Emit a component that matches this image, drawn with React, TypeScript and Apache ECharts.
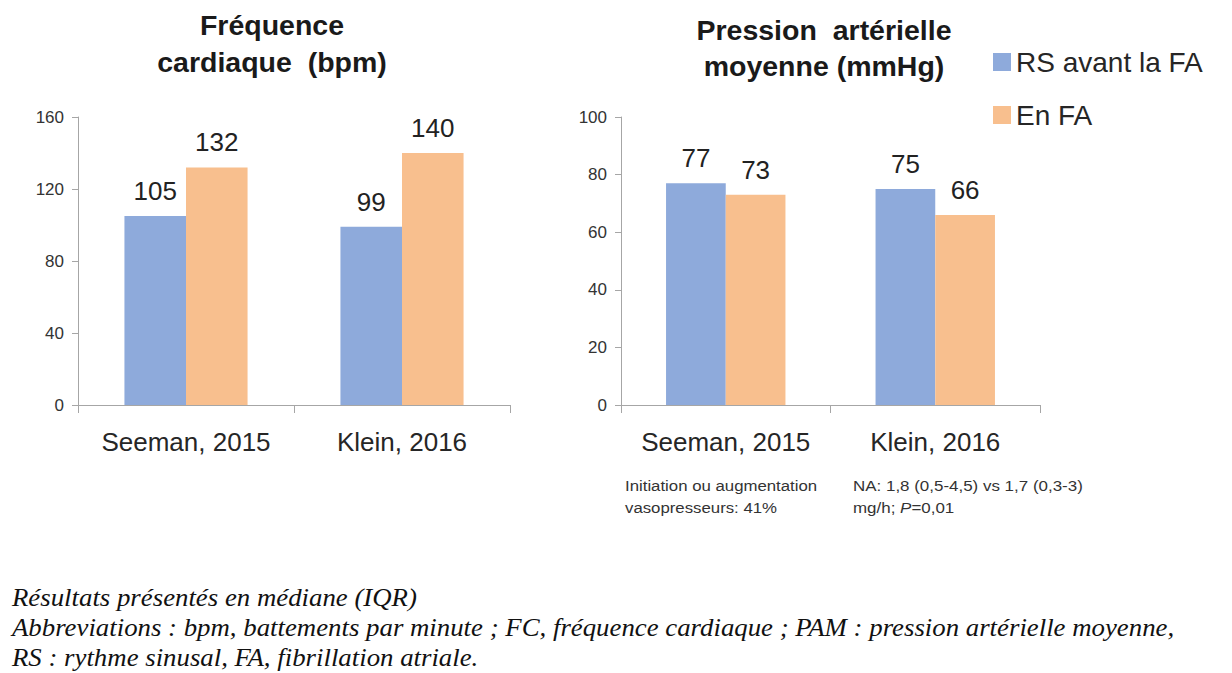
import React, { useEffect, useRef } from "react";
import * as echarts from "echarts";

const categories = ["Seeman, 2015", "Klein, 2016"];
const seriesNames = ["RS avant la FA", "En FA"];
const hrBefore = [105, 99];
const hrAF = [132, 140];
const mapBefore = [77, 75];
const mapAF = [73, 66];
const hrTitle = ["Fréquence", "cardiaque  (bpm)"];
const mapTitle = ["Pression  artérielle", "moyenne (mmHg)"];
const noteLeft = ["Initiation ou augmentation", "vasopresseurs: 41%"];
const noteRight1 = "NA: 1,8 (0,5-4,5) vs 1,7 (0,3-3)";
const footer = [
  "Résultats présentés en médiane (IQR)",
  "Abbreviations : bpm, battements par minute ; FC, fréquence cardiaque ; PAM : pression artérielle moyenne,",
  "RS : rythme sinusal, FA, fibrillation atriale.",
];

const BLUE = "#8EAADB";
const ORANGE = "#F8BF8E";
const SANS = "'Liberation Sans', Arial, sans-serif";

export default function App() {
  const ref = useRef<HTMLDivElement>(null);
  useEffect(() => {
    const chart = echarts.init(ref.current!, null, { renderer: "svg" });
    const axisLine = { show: true, lineStyle: { color: "#A6A6A6", width: 1 } };
    const xAxisBase = {
      type: "category" as const,
      data: categories,
      axisLine,
      axisTick: { show: true, length: 8, lineStyle: { color: "#A6A6A6" } },
      axisLabel: { interval: 0, fontSize: 26, color: "#262626", fontFamily: SANS, margin: 24 },
    };
    const yAxisBase = {
      type: "value" as const,
      axisLine,
      axisTick: { show: true, length: 6, lineStyle: { color: "#A6A6A6" } },
      splitLine: { show: false },
      axisLabel: { fontSize: 17, color: "#333", fontFamily: SANS, margin: 14 },
    };
    const label = {
      show: true,
      position: "top" as const,
      distance: 12,
      fontSize: 26,
      color: "#222",
      fontFamily: SANS,
    };
    const barCommon = { barGap: "0%", barCategoryGap: "43%", label };
    const titleStyle = (t: string) => ({
      text: t, fontSize: 28.5, fontWeight: "bold", fontFamily: SANS, fill: "#1a1a1a",
      textAlign: "center", textVerticalAlign: "middle",
    });
    const noteStyle = (t: string) => ({
      text: t, fontSize: 15, fontFamily: SANS, fill: "#333", textVerticalAlign: "middle",
    });
    chart.setOption({
      animation: false,
      backgroundColor: "#fff",
      legend: {
        orient: "vertical",
        left: 988,
        top: 43,
        itemWidth: 18,
        itemHeight: 18,
        itemGap: 25,
        icon: "rect",
        data: seriesNames,
        textStyle: { fontSize: 28, color: "#262626", fontFamily: SANS },
      },
      grid: [
        { left: 78, width: 432, top: 117, height: 288 },
        { left: 621, width: 419, top: 117, height: 288 },
      ],
      xAxis: [
        { ...xAxisBase, gridIndex: 0 },
        { ...xAxisBase, gridIndex: 1 },
      ],
      yAxis: [
        { ...yAxisBase, gridIndex: 0, min: 0, max: 160, interval: 40 },
        { ...yAxisBase, gridIndex: 1, min: 0, max: 100, interval: 20 },
      ],
      series: [
        { type: "bar", name: seriesNames[0], xAxisIndex: 0, yAxisIndex: 0, data: hrBefore, itemStyle: { color: BLUE }, ...barCommon },
        { type: "bar", name: seriesNames[1], xAxisIndex: 0, yAxisIndex: 0, data: hrAF, itemStyle: { color: ORANGE }, ...barCommon },
        { type: "bar", name: seriesNames[0], xAxisIndex: 1, yAxisIndex: 1, data: mapBefore, itemStyle: { color: BLUE }, ...barCommon },
        { type: "bar", name: seriesNames[1], xAxisIndex: 1, yAxisIndex: 1, data: mapAF, itemStyle: { color: ORANGE }, ...barCommon },
      ],
      graphic: [
        { type: "text", x: 272, y: 25, style: titleStyle(hrTitle[0]) },
        { type: "text", x: 272, y: 62, style: titleStyle(hrTitle[1]) },
        { type: "text", x: 824, y: 30, style: titleStyle(mapTitle[0]) },
        { type: "text", x: 824, y: 66, style: titleStyle(mapTitle[1]) },
        { type: "text", x: 625, y: 486, scaleX: 1.12, style: noteStyle(noteLeft[0]) },
        { type: "text", x: 625, y: 508, scaleX: 1.12, style: noteStyle(noteLeft[1]) },
        { type: "text", x: 853, y: 486, scaleX: 1.13, style: noteStyle(noteRight1) },
        {
          type: "text", x: 853, y: 508, scaleX: 1.13,
          style: {
            text: "{n|mg/h; }{i|P}{n|=0,01}",
            fill: "#333",
            fontSize: 15,
            fontFamily: SANS,
            fontWeight: "normal",
            textVerticalAlign: "middle",
            rich: {
              n: { fontSize: 15, fontFamily: SANS, fill: "#333", color: "#333", fontWeight: "normal" },
              i: { fontSize: 15, fontFamily: SANS, fill: "#333", color: "#333", fontWeight: "normal", fontStyle: "italic" },
            },
          },
        },
        ...footer.map((t, i) => ({
          type: "text", x: 12, y: 598 + i * 30, scaleX: 1.073,
          style: { text: t, fontSize: 25, fontStyle: "italic", fontFamily: "'Liberation Serif', 'Times New Roman', serif", fill: "#111", textVerticalAlign: "middle" },
        })),
      ],
    });
    return () => chart.dispose();
  }, []);
  return <div ref={ref} style={{ position: "fixed", left: 0, top: 0, width: 1232, height: 673 }} />;
}
